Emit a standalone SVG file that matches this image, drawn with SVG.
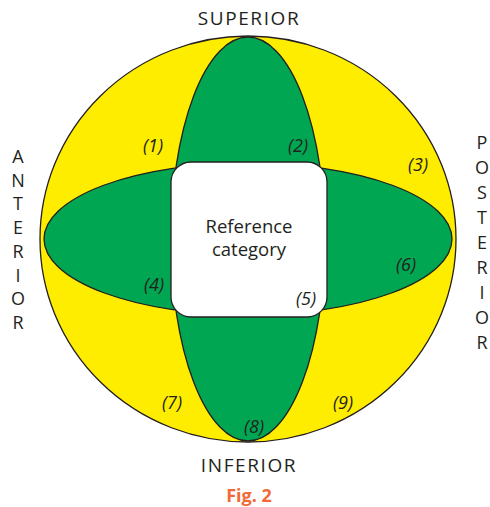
<svg xmlns="http://www.w3.org/2000/svg" width="490" height="507" viewBox="0 0 490 507">
<style>
.ln{stroke:#231f20;stroke-width:1.3}
.lab{font-family:"Open Sans","Liberation Sans",sans-serif;font-size:18px;fill:#231f20;text-anchor:middle}
.num{font-family:"Open Sans","Liberation Sans",sans-serif;font-size:18px;font-style:italic;fill:#231f20;text-anchor:middle}
</style>
<rect width="490" height="507" fill="#ffffff"/>
<g id="circle"><ellipse class="ln" cx="248" cy="239" rx="208" ry="203" fill="#ffed00"/></g>
<g id="vertical"><ellipse class="ln" cx="248" cy="239" rx="77" ry="202" fill="#00a651"/></g>
<g id="horizontal"><ellipse class="ln" cx="248" cy="239" rx="204" ry="76" fill="#00a651"/></g>
<g id="reference">
<rect class="ln" x="171" y="162" width="156" height="155" rx="20" fill="#ffffff"/>
<text class="lab" x="249" y="233" style="font-size:18.5px">Reference</text>
<text class="lab" x="249" y="256" style="font-size:18.5px">category</text>
</g>
<g id="numbers">
<text class="num" x="153" y="152">(1)</text>
<text class="num" x="298" y="152">(2)</text>
<text class="num" x="418" y="171">(3)</text>
<text class="num" x="154" y="291">(4)</text>
<text class="num" x="306" y="305">(5)</text>
<text class="num" x="406" y="271">(6)</text>
<text class="num" x="172" y="409">(7)</text>
<text class="num" x="254" y="433">(8)</text>
<text class="num" x="343" y="409">(9)</text>
</g>
<g id="labels">
<text class="lab" x="249" y="25" style="font-size:19px" letter-spacing="1.6">SUPERIOR</text>
<text class="lab" x="249" y="472" style="font-size:19px" letter-spacing="1.6">INFERIOR</text>
<text class="lab" x="18" y="163">A</text>
<text class="lab" x="18" y="187">N</text>
<text class="lab" x="18" y="210">T</text>
<text class="lab" x="18" y="234">E</text>
<text class="lab" x="18" y="258">R</text>
<text class="lab" x="18" y="282">I</text>
<text class="lab" x="18" y="305">O</text>
<text class="lab" x="18" y="329">R</text>
<text class="lab" x="482" y="149">P</text>
<text class="lab" x="482" y="174">O</text>
<text class="lab" x="482" y="199">S</text>
<text class="lab" x="482" y="224">T</text>
<text class="lab" x="482" y="249">E</text>
<text class="lab" x="482" y="274">R</text>
<text class="lab" x="482" y="299">I</text>
<text class="lab" x="482" y="324">O</text>
<text class="lab" x="482" y="349">R</text>
<text class="lab" x="249" y="502" style="fill:#f26a35;font-weight:bold">Fig. 2</text>
</g>
</svg>
